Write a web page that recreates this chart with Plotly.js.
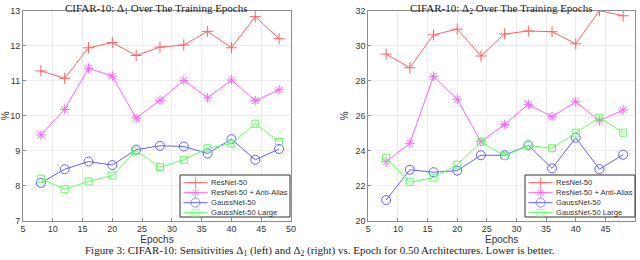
<!DOCTYPE html>
<html><head><meta charset="utf-8">
<script src="https://cdn.plot.ly/plotly-3.0.1.min.js"></script>
<style>html,body{margin:0;padding:0;background:#fff}#chart{width:640px;height:260px}</style>
</head><body><div id="chart"></div>
<script>
const epochs = [8, 12, 16, 20, 24, 28, 32, 36, 40, 44, 48];
const seriesNames = ["ResNet-50", "ResNet-50 + Anti-Alias", "GaussNet-50", "GaussNet-50 Large"];
// Delta 1 (left)
const d1_resnet   = [11.28, 11.07, 11.94, 12.09, 11.72, 11.96, 12.02, 12.41, 11.94, 12.83, 12.20];
const d1_antialias= [9.45, 10.18, 11.36, 11.13, 9.93, 10.44, 11.01, 10.51, 11.02, 10.43, 10.74];
const d1_gauss    = [8.08, 8.47, 8.69, 8.59, 9.03, 9.14, 9.12, 8.92, 9.33, 8.74, 9.05];
const d1_gaussL   = [8.20, 7.90, 8.12, 8.29, 9.00, 8.53, 8.74, 9.07, 9.20, 9.77, 9.25];
// Delta 2 (right)
const d2_resnet   = [29.52, 28.74, 30.62, 30.95, 29.41, 30.67, 30.84, 30.80, 30.11, 32.00, 31.71];
const d2_antialias= [23.37, 24.42, 28.25, 26.94, 24.51, 25.50, 26.65, 25.94, 26.80, 25.71, 26.33];
const d2_gauss    = [21.18, 22.91, 22.77, 22.86, 23.74, 23.74, 24.31, 22.99, 24.74, 22.95, 23.77];
const d2_gaussL   = [23.60, 22.20, 22.46, 23.20, 24.51, 23.70, 24.30, 24.14, 25.03, 25.89, 25.03];
const xTicks = [5, 10, 15, 20, 25, 30, 35, 40, 45, 50];
const titles = ["CIFAR-10: Δ<sub>1</sub> Over The Training Epochs", "CIFAR-10: Δ<sub>2</sub> Over The Training Epochs"];
const caption = "Figure 3: CIFAR-10: Sensitivities Δ<sub>1</sub> (left) and Δ<sub>2</sub> (right) vs. Epoch for 0.50 Architectures. Lower is better.";

const colors = ["#ff5f5f", "#ff5fff", "#5f5fff", "#5fff5f"];
const symbols = ["cross-thin-open", "asterisk-open", "circle-open", "square-open"];
const sizes = [8, 8, 9, 7];
const FONT = 'Liberation Sans, Arial';
const SERIF = 'Liberation Serif, Times New Roman';

const left = [d1_resnet, d1_antialias, d1_gauss, d1_gaussL];
const right = [d2_resnet, d2_antialias, d2_gauss, d2_gaussL];
const traces = [];
function mk(i) { return {symbol: symbols[i], size: sizes[i], color: colors[i], line: {color: colors[i], width: 1}}; }
left.forEach((v, i) => traces.push({x: epochs, y: v, name: seriesNames[i], xaxis: 'x', yaxis: 'y', showlegend: false,
  mode: 'lines+markers', line: {color: colors[i], width: 1}, marker: mk(i)}));
right.forEach((v, i) => traces.push({x: epochs, y: v, name: seriesNames[i], xaxis: 'x2', yaxis: 'y2', showlegend: false,
  mode: 'lines+markers', line: {color: colors[i], width: 1}, marker: mk(i)}));

// Legend boxes (drawn on a pixel-space overlay axis so they sit above the data)
const annotations = [];
const legendBoxes = [{x0: 180, x1: 290}, {x0: 525, x1: 635}];
const boxY0 = 175, boxY1 = 217, rowY = [182.7, 192.7, 202.7, 212.7];
legendBoxes.forEach(b => {
  traces.push({x: [b.x0, b.x1, b.x1, b.x0, b.x0], y: [boxY0, boxY0, boxY1, boxY1, boxY0], xaxis: 'x3', yaxis: 'y3',
    mode: 'lines', fill: 'toself', fillcolor: '#ffffff', line: {color: '#333333', width: 1}, showlegend: false, hoverinfo: 'skip'});
  seriesNames.forEach((n, i) => {
    const lx0 = b.x0 + 3.5, lx1 = b.x0 + 27.5;
    traces.push({x: [lx0, (lx0 + lx1) / 2, lx1], y: [rowY[i], rowY[i], rowY[i]], xaxis: 'x3', yaxis: 'y3',
      mode: 'lines+markers', line: {color: colors[i], width: 1},
      marker: Object.assign(mk(i), {size: [0, sizes[i], 0]}), showlegend: false, hoverinfo: 'skip'});
    annotations.push({text: n, xref: 'x3', yref: 'y3', x: b.x0 + 29, y: rowY[i], xanchor: 'left', yanchor: 'middle',
      showarrow: false, font: {family: FONT, size: 7.6, color: '#333'}});
  });
});

const ax = {showline: true, linecolor: '#8c8c8c', linewidth: 1, mirror: true, ticks: 'inside', ticklen: 3, tickcolor: '#8c8c8c',
  showgrid: true, gridcolor: '#ebebeb', zeroline: false, tickfont: {family: FONT, size: 9, color: '#333'}};
const xa = Object.assign({}, ax, {range: [5, 50], tickvals: xTicks, title: {text: 'Epochs', font: {family: FONT, size: 10, color: '#333'}, standoff: 2}});

annotations.push(
  {text: titles[0], xref: 'paper', yref: 'paper', x: 0.2453, y: 1.0, xanchor: 'center', yanchor: 'top', showarrow: false,
    font: {family: SERIF, size: 11, color: '#222'}},
  {text: titles[1], xref: 'paper', yref: 'paper', x: 0.7838, y: 1.0, xanchor: 'center', yanchor: 'top', showarrow: false,
    font: {family: SERIF, size: 11, color: '#222'}},
  {text: caption, xref: 'paper', yref: 'paper', x: 0.5, y: 0.0, xanchor: 'center', yanchor: 'bottom', showarrow: false,
    font: {family: SERIF, size: 11, color: '#222'}}
);

const layout = {
  width: 640, height: 260, margin: {l: 0, r: 0, t: 0, b: 0}, paper_bgcolor: '#fff', plot_bgcolor: 'rgba(0,0,0,0)', showlegend: false,
  xaxis: Object.assign({}, xa, {domain: [0.0359, 0.4547], anchor: 'y'}),
  xaxis2: Object.assign({}, xa, {domain: [0.5755, 0.9922], anchor: 'y2'}),
  yaxis: Object.assign({}, ax, {domain: [0.1512, 0.9588], range: [7, 13], dtick: 1, anchor: 'x',
    title: {text: '%', font: {family: FONT, size: 10, color: '#333'}, standoff: 4}}),
  yaxis2: Object.assign({}, ax, {domain: [0.1512, 0.9588], range: [20, 32], dtick: 2, anchor: 'x2',
    title: {text: '%', font: {family: FONT, size: 10, color: '#333'}, standoff: 4}}),
  xaxis3: {domain: [0, 1], range: [0, 640], visible: false, anchor: 'y3', fixedrange: true},
  yaxis3: {domain: [0, 1], range: [260, 0], visible: false, anchor: 'x3', fixedrange: true},
  annotations: annotations
};
Plotly.newPlot('chart', traces, layout, {staticPlot: true, displayModeBar: false});
</script></body></html>
